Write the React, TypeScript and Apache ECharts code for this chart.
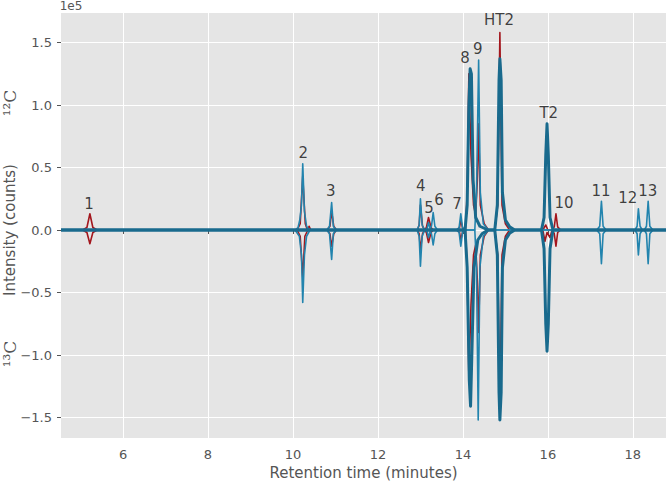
import React, { useEffect, useRef } from "react";
import * as echarts from "echarts";

// Axis ticks
const xTicks = [6, 8, 10, 12, 14, 16, 18];
const yTicks = [-150000, -100000, -50000, 0, 50000, 100000, 150000];

// Red traces (12C up, 13C down): [time (min), intensity (counts)]
const red12C = [
  [4.54, 0], [5.05, 0], [5.15, 2000], [5.22, 13000], [5.29, 2000], [5.39, 0],
  [10.1, 0], [10.17, 5000], [10.23, 43000], [10.29, 5000], [10.34, 0], [10.38, 3000], [10.42, 0],
  [10.8, 0], [10.87, 3000], [10.91, 15000], [10.96, 3000], [11.02, 0],
  [12.93, 0], [12.97, 4000], [13.0, 20000], [13.05, 3000], [13.1, 0],
  [13.14, 2000], [13.19, 10000], [13.25, 2000], [13.3, 0],
  [13.85, 0], [13.92, 2000], [13.95, 8000], [13.99, 2000], [14.03, 0],
  [14.06, 0], [14.1, 30000], [14.14, 125000], [14.19, 60000], [14.25, 20000], [14.3, 12000],
  [14.34, 40000], [14.37, 85000], [14.41, 20000], [14.5, 5000], [14.6, 0],
  [14.75, 0], [14.82, 20000], [14.87, 158000], [14.92, 20000], [15.0, 5000], [15.1, 0],
  [15.88, 0], [15.95, 4000], [16.0, 0], [16.1, 0], [16.15, 2500], [16.19, 13000], [16.23, 2500], [16.3, 0],
  [18.78, 0],
];
const red13C = [
  [4.54, 0], [5.05, 0], [5.15, -2000], [5.22, -11000], [5.29, -2000], [5.39, 0],
  [10.1, 0], [10.17, -5000], [10.23, -38000], [10.28, -5000], [10.35, 0],
  [10.8, 0], [10.87, -3000], [10.91, -13000], [10.96, -3000], [11.02, 0],
  [12.93, 0], [12.97, -3000], [13.0, -16000], [13.05, -3000], [13.1, 0],
  [13.14, -2000], [13.19, -10000], [13.25, -2000], [13.3, 0],
  [13.85, 0], [13.92, -2000], [13.95, -8000], [13.99, -2000], [14.03, 0],
  [14.06, 0], [14.1, -30000], [14.14, -117000], [14.19, -60000], [14.25, -20000], [14.3, -12000],
  [14.34, -40000], [14.37, -82000], [14.41, -20000], [14.5, -5000], [14.6, 0],
  [14.75, 0], [14.82, -20000], [14.87, -150000], [14.92, -20000], [15.0, -5000], [15.1, 0],
  [15.88, 0], [15.93, -9000], [15.98, -2000], [16.05, -6000], [16.1, 0],
  [16.15, -3000], [16.19, -13000], [16.23, -2000], [16.3, 0],
  [18.78, 0],
];

// Thin blue traces
const blueThin12C = [
  [4.54, 0], [10.05, 0], [10.12, 2000], [10.16, 8000], [10.2, 20000], [10.23, 53000], [10.27, 15000], [10.32, 3000], [10.38, 0],
  [10.8, 0], [10.86, 3000], [10.91, 22000], [10.95, 3000], [11.02, 0],
  [12.92, 0], [12.97, 4000], [13.0, 25000], [13.04, 4000], [13.1, 0],
  [13.15, 0], [13.19, 6000], [13.23, 1000], [13.26, 3000], [13.3, 14000], [13.34, 3000], [13.4, 0],
  [13.85, 0], [13.91, 2000], [13.95, 13000], [13.99, 2000], [14.05, 0],
  [14.28, 0], [14.32, 30000], [14.37, 136000], [14.41, 30000], [14.48, 5000], [14.6, 0],
  [17.15, 0], [17.22, 3000], [17.26, 23000], [17.3, 3000], [17.37, 0],
  [18.05, 0], [18.1, 3000], [18.13, 17000], [18.17, 3000], [18.22, 0],
  [18.27, 0], [18.32, 3000], [18.36, 23000], [18.4, 3000], [18.47, 0],
  [18.78, 0],
];
const blueThin13C = [
  [4.54, 0], [10.05, 0], [10.15, -5000], [10.2, -20000], [10.23, -58000], [10.27, -20000], [10.32, -5000], [10.4, 0],
  [10.8, 0], [10.86, -3000], [10.91, -23500], [10.95, -3000], [11.02, 0],
  [12.92, 0], [12.97, -5000], [13.0, -29000], [13.04, -5000], [13.1, 0],
  [13.15, 0], [13.19, -6000], [13.23, -1000], [13.26, -3000], [13.3, -12000], [13.34, -3000], [13.4, 0],
  [13.85, 0], [13.91, -2000], [13.95, -13000], [13.99, -2000], [14.05, 0],
  [14.28, 0], [14.32, -30000], [14.36, -152000], [14.4, -30000], [14.48, -5000], [14.6, 0],
  [17.15, 0], [17.22, -3000], [17.26, -27000], [17.3, -3000], [17.37, 0],
  [18.05, 0], [18.1, -3000], [18.13, -20000], [18.17, -3000], [18.22, 0],
  [18.27, 0], [18.32, -3000], [18.36, -27000], [18.4, -3000], [18.47, 0],
  [18.78, 0],
];

// Thick blue traces (include the baseline)
const blueThick12C = [
  [4.54, 0], [14.05, 0], [14.1, 20000], [14.14, 100000], [14.17, 129000], [14.2, 125000], [14.24, 40000],
  [14.3, 10000], [14.4, 3000], [14.59, 0],
  [14.75, 0], [14.81, 20000], [14.85, 120000], [14.87, 137000], [14.9, 120000], [14.93, 30000],
  [15.0, 8000], [15.1, 2500], [15.22, 0],
  [15.85, 0], [15.91, 10000], [15.95, 60000], [15.98, 85000], [16.01, 60000], [16.05, 10000], [16.12, 0],
  [18.78, 0],
];
const blueThick13C = [
  [4.54, 0], [14.05, 0], [14.1, -30000], [14.15, -120000], [14.18, -141000], [14.21, -100000], [14.26, -30000],
  [14.35, -8000], [14.45, -3000], [14.59, 0],
  [14.75, 0], [14.81, -20000], [14.85, -130000], [14.87, -152000], [14.9, -130000], [14.93, -30000],
  [15.0, -8000], [15.1, -2500], [15.22, 0],
  [15.85, 0], [15.91, -15000], [15.95, -75000], [15.98, -97000], [16.01, -75000], [16.05, -15000], [16.12, 0],
  [18.78, 0],
];

// Peak labels
const peakNames = ["1", "2", "3", "4", "5", "6", "7", "8", "9", "HT2", "T2", "10", "11", "12", "13"];
const peakLabelT = [5.2, 10.24, 10.89, 13.01, 13.2, 13.44, 13.86, 14.05, 14.35, 14.85, 16.02, 16.38, 17.25, 17.88, 18.35];
const peakLabelY = [21000, 62000, 31000, 35000, 18000, 24000, 21000, 138000, 145000, 168000, 94000, 22000, 31000, 26000, 31000];

const RED = "#a3161d";
const BLUE_THIN = "#2284ae";
const BLUE_THICK = "#196a8d";
const GRAY = "#555555";

function lineSeries(data: number[][], color: string, width: number, z: number) {
  return {
    type: "line",
    data,
    symbol: "none",
    showSymbol: false,
    silent: true,
    z,
    lineStyle: { color, width, join: "round" },
  };
}

export default function App() {
  const ref = useRef<HTMLDivElement>(null);
  useEffect(() => {
    if (!ref.current) return;
    const chart = echarts.init(ref.current, undefined, { renderer: "svg" });
    chart.setOption({
      animation: false,
      backgroundColor: "#ffffff",
      textStyle: { fontFamily: "DejaVu Sans" },
      grid: {
        left: 61, top: 13, right: 0, bottom: 45,
        show: true, backgroundColor: "#e5e5e5", borderWidth: 0,
        containLabel: false, outerBoundsMode: "none",
      },
      xAxis: {
        type: "value",
        min: 4.54,
        max: 18.78,
        axisLine: { show: false },
        axisTick: { show: true, customValues: xTicks, length: 4, lineStyle: { color: GRAY } },
        axisLabel: { customValues: xTicks, color: GRAY, fontSize: 13, margin: 10 },
        splitLine: { show: true, lineStyle: { color: "#ffffff", width: 1 } },
        name: "Retention time (minutes)",
        nameLocation: "middle",
        nameGap: 24,
        nameTextStyle: { color: GRAY, fontSize: 15 },
      },
      yAxis: {
        type: "value",
        min: -166400,
        max: 173600,
        axisLine: { show: false },
        axisTick: { show: true, customValues: yTicks, length: 4, lineStyle: { color: GRAY } },
        axisLabel: {
          customValues: yTicks,
          color: GRAY,
          fontSize: 13,
          margin: 9,
          formatter: (v: number) => (v / 1e5).toFixed(1).replace("-", "\u2212"),
        },
        splitLine: { show: true, lineStyle: { color: "#ffffff", width: 1 } },
      },
      graphic: [
        { type: "text", x: 71, y: 6, style: { text: "1e5", fill: GRAY, fontSize: 12, align: "center", verticalAlign: "middle", fontFamily: "DejaVu Sans" } },
        { type: "text", x: 10, y: 230, rotation: Math.PI / 2, style: { text: "Intensity (counts)", fill: GRAY, fontSize: 15, align: "center", verticalAlign: "middle", fontFamily: "DejaVu Sans" } },
        { type: "text", x: 10, y: 103, rotation: Math.PI / 2, style: { text: "\u00b9\u00b2C", fill: GRAY, fontSize: 17, align: "center", verticalAlign: "middle", fontFamily: "DejaVu Serif" } },
        { type: "text", x: 10, y: 354, rotation: Math.PI / 2, style: { text: "\u00b9\u00b3C", fill: GRAY, fontSize: 17, align: "center", verticalAlign: "middle", fontFamily: "DejaVu Serif" } },
      ],
      series: [
        lineSeries(red13C, RED, 1.6, 2),
        lineSeries(red12C, RED, 1.6, 2),
        lineSeries(blueThin13C, BLUE_THIN, 1.6, 3),
        lineSeries(blueThin12C, BLUE_THIN, 1.6, 3),
        lineSeries(blueThick13C, BLUE_THICK, 3, 4),
        lineSeries(blueThick12C, BLUE_THICK, 3, 4),
        {
          type: "scatter",
          silent: true,
          z: 5,
          symbol: "circle",
          symbolSize: 1,
          itemStyle: { color: "rgba(0,0,0,0)" },
          label: { show: true, position: "inside", formatter: "{b}", color: "#111111", fontSize: 15, fontFamily: "DejaVu Sans" },
          data: peakNames.map((n, i) => ({ name: n, value: [peakLabelT[i], peakLabelY[i]] })),
        },
      ],
    });
    return () => chart.dispose();
  }, []);
  return <div ref={ref} style={{ position: "fixed", left: 0, top: 0, width: 666, height: 483 }} />;
}
